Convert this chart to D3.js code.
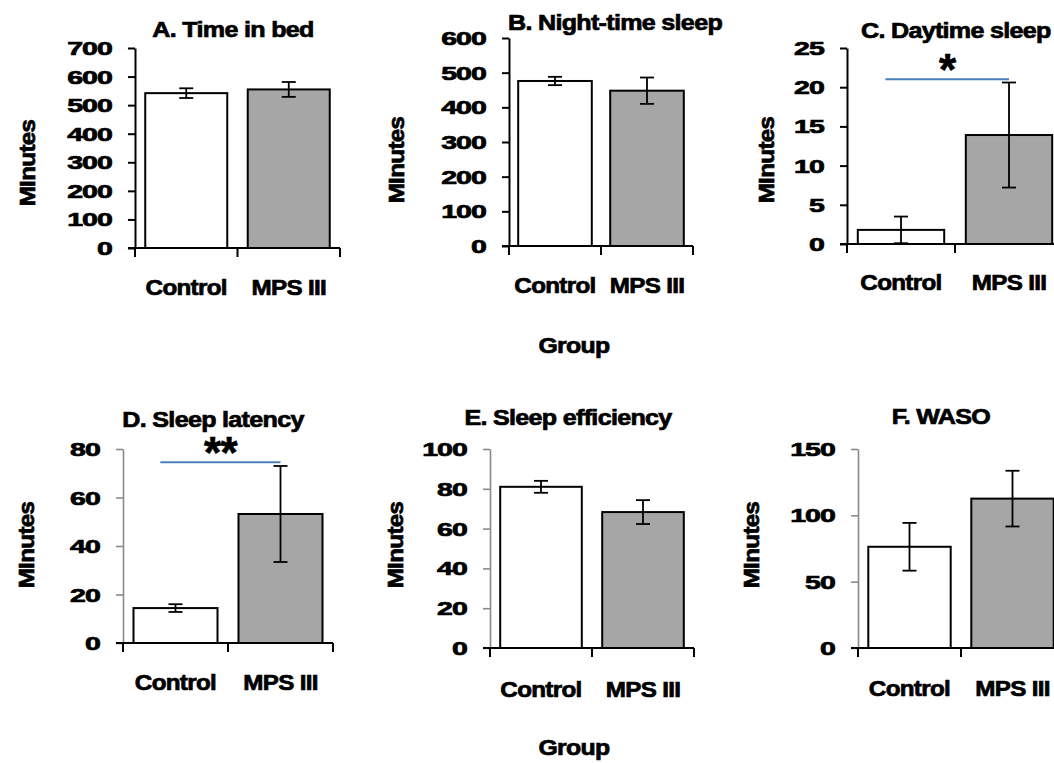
<!DOCTYPE html>
<html>
<head>
<meta charset="utf-8">
<script src="https://cdn.jsdelivr.net/npm/d3@7"></script>
<style>
  html, body { margin: 0; padding: 0; background: #fff; }
  svg { display: block; }
  text { font-family: "Liberation Sans", Arial, sans-serif; font-weight: bold; fill: #000;
         stroke: #000; stroke-width: 0.7px; letter-spacing: -0.6px; }
</style>
</head>
<body>
<svg id="chart" width="1054" height="763"></svg>
<script>
// ---------------- data ----------------
const categories = ["Control", "MPS III"];
const panelTitles = ["A. Time in bed", "B. Night-time sleep", "C. Daytime sleep",
                     "D. Sleep latency", "E. Sleep efficiency", "F. WASO"];
const yAxisTitle = "MInutes";
const xAxisTitle = "Group";
const meanA = [542, 555];
const errA  = [17, 26];
const meanB = [476, 448];
const errB  = [12, 38];
const meanC = [1.8, 13.9];
const errC  = [1.7, 6.7];
const meanD = [14.4, 53.2];
const errD  = [1.6, 19.8];
const meanE = [81, 68.3];
const errE  = [3, 6];
const meanF = [76.3, 112.6];
const errF  = [18, 21];
const yMaxes = [700, 600, 25, 80, 100, 150];
const yTickSteps = [100, 100, 5, 20, 20, 50];
const sigValues = [null, null, 21, 74.5, null, null];
const sigLabels = ["", "", "*", "**", "", ""];

const means = [meanA, meanB, meanC, meanD, meanE, meanF];
const errs  = [errA, errB, errC, errD, errE, errF];

// ---------------- layout ----------------
const layout = [
  {ax: 135, end: 340,  top: 48,  base: 248, tx: 233, ty: 37,  tAnchor: "middle", lx: 35,  ly: 163, cy: 295, yGray: false},
  {ax: 509, end: 693,  top: 38,  base: 246, tx: 615, ty: 30,  tAnchor: "middle", lx: 404, ly: 160, cy: 293, yGray: false},
  {ax: 847, end: 1063, top: 48,  base: 244, tx: 861, ty: 38,  tAnchor: "start",  lx: 774, ly: 160, cy: 290, yGray: false},
  {ax: 123, end: 333,  top: 449, base: 643, tx: 213, ty: 427, tAnchor: "middle", lx: 34,  ly: 545, cy: 690, yGray: true},
  {ax: 490, end: 694,  top: 449, base: 648, tx: 568, ty: 425, tAnchor: "middle", lx: 403, ly: 545, cy: 697, yGray: true},
  {ax: 858, end: 1064, top: 449, base: 648, tx: 941, ty: 424, tAnchor: "middle", lx: 759, ly: 545, cy: 696, yGray: true}
];
const groupLabels = [{x: 574, y: 353}, {x: 574, y: 755}];

const svg = d3.select("#chart");

function stretchText(g, x, y, s, size, sx, anchor, rot) {
  const t = g.append("text")
    .attr("transform", `translate(${x},${y})` + (rot ? ` rotate(${rot})` : "") + ` scale(${sx},1)`)
    .attr("text-anchor", anchor)
    .style("font-size", size + "px")
    .text(s);
  return t;
}

layout.forEach((L, i) => {
  const g = svg.append("g");
  const y = d3.scaleLinear().domain([0, yMaxes[i]]).range([L.base, L.top]);
  const x = d3.scaleBand().domain(categories).range([L.ax, L.end])
              .paddingInner(0.2).paddingOuter(0.1);
  const yColor = L.yGray ? "#8a8a8a" : "#000";
  const yWidth = L.yGray ? 1.6 : 2;
  const ticks = d3.range(0, yMaxes[i] + yTickSteps[i] / 2, yTickSteps[i]);

  // y axis
  const yAxis = d3.axisLeft(y).tickValues(ticks).tickSize(7).tickSizeOuter(0).tickFormat("");
  const ya = g.append("g").attr("transform", `translate(${L.ax},0)`).call(yAxis);
  ya.select(".domain").attr("stroke", yColor).attr("stroke-width", yWidth);
  ya.selectAll(".tick line").attr("stroke", yColor).attr("stroke-width", yWidth);
  ticks.forEach(v => {
    stretchText(g, L.ax - 23, y(v) + 7, String(v), 19, 1.5, "end");
  });

  // bars
  g.selectAll("rect.bar").data(categories).enter().append("rect")
    .attr("x", d => x(d))
    .attr("y", (d, j) => y(means[i][j]))
    .attr("width", x.bandwidth())
    .attr("height", (d, j) => y(0) - y(means[i][j]))
    .attr("fill", (d, j) => j === 0 ? "#ffffff" : "#a6a6a6")
    .attr("stroke", "#000").attr("stroke-width", 2);

  // x axis
  const x0 = x.range()[0];
  g.append("line").attr("x1", x0 - 7).attr("x2", L.end).attr("y1", y(0)).attr("y2", y(0))
    .attr("stroke", "#000").attr("stroke-width", 2);
  d3.range(0, categories.length + 1).forEach(k => {
    const xx = x0 + k * x.step();
    g.append("line").attr("x1", xx).attr("x2", xx).attr("y1", y(0)).attr("y2", y(0) + 9)
      .attr("stroke", "#000").attr("stroke-width", 2);
  });

  // error bars
  categories.forEach((c, j) => {
    const cx = x(c) + x.bandwidth() / 2;
    const hi = means[i][j] + errs[i][j];
    const lo = Math.max(0, means[i][j] - errs[i][j]);
    g.append("line").attr("x1", cx).attr("x2", cx).attr("y1", y(hi)).attr("y2", y(lo))
      .attr("stroke", "#000").attr("stroke-width", 1.8);
    [hi, lo].forEach(v => {
      g.append("line").attr("x1", cx - 7).attr("x2", cx + 7).attr("y1", y(v)).attr("y2", y(v))
        .attr("stroke", "#000").attr("stroke-width", 1.8);
    });
  });

  // category labels
  categories.forEach(c => {
    stretchText(g, x(c) + x.bandwidth() / 2, L.cy, c, 22, 1.1, "middle");
  });

  // significance
  if (sigValues[i] !== null) {
    const sx1 = x(categories[0]) + 0.32 * x.bandwidth();
    const sx2 = x(categories[1]) + 0.5 * x.bandwidth();
    g.append("line").attr("x1", sx1).attr("x2", sx2)
      .attr("y1", y(sigValues[i])).attr("y2", y(sigValues[i]))
      .attr("stroke", "#4a7ebb").attr("stroke-width", 2);
    stretchText(g, (sx1 + sx2) / 2, y(sigValues[i]) + 6, sigLabels[i], 44, 1.0, "middle");
  }

  // title
  stretchText(g, L.tx, L.ty, panelTitles[i], 22, 1.14, L.tAnchor);
  // y axis title
  stretchText(g, L.lx, L.ly, yAxisTitle, 22, 1.1, "middle", -90);
});

groupLabels.forEach(p => stretchText(svg, p.x, p.y, xAxisTitle, 22, 1.13, "middle"));
</script>
</body>
</html>
